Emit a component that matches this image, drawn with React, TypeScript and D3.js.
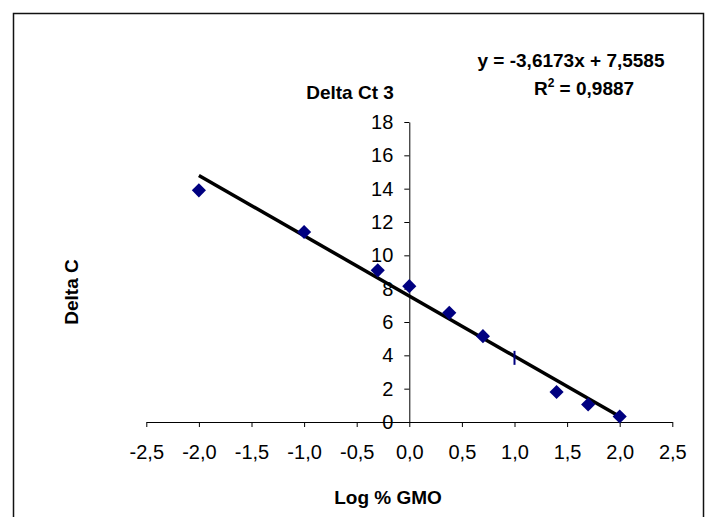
import React, { useEffect, useRef } from 'react'
import * as d3 from 'd3'

// measured points (log % GMO vs delta Ct)
const logGmo = [-2.0, -1.0, -0.3, 0.0, 0.38, 0.7, 1.4, 1.7, 2.0]
const deltaCt = [13.9, 11.4, 9.1, 8.15, 6.55, 5.15, 1.8, 1.05, 0.33]
// one point drawn as a short dash in the original
const dashX = [1.0]
const dashY = [3.85]

const xTicks = [-2.5, -2.0, -1.5, -1.0, -0.5, 0.0, 0.5, 1.0, 1.5, 2.0, 2.5]
const yTicks = [0, 2, 4, 6, 8, 10, 12, 14, 16, 18]

const slope = -3.6173
const intercept = 7.5585
const fitRange = [-2, 2]

const title = 'Delta Ct 3'
const xTitle = 'Log % GMO'
const yTitle = 'Delta C'
const eqLine = 'y = -3,6173x + 7,5585'
const r2Value = ' = 0,9887'

export default function App() {
	const ref = useRef<SVGSVGElement>(null)

	useEffect(() => {
		const svg = d3.select(ref.current)
		svg.selectAll('*').remove()

		const font = 'Liberation Sans, Arial, sans-serif'
		const x = d3.scaleLinear().domain([-2.5, 2.5]).range([146.3, 672.3])
		const y = d3.scaleLinear().domain([0, 18]).range([422, 122])
		// excel style: comma decimal, plain hyphen for minus
		const comma = (d: number) => d.toFixed(1).replace('.', ',')

		// chart area border
		svg.append('rect')
			.attr('x', 13.5).attr('y', 13.5)
			.attr('width', 690).attr('height', 600)
			.attr('fill', 'white')
			.attr('stroke', '#111').attr('stroke-width', 1.5)

		svg.append('g')
			.attr('transform', `translate(0,${y(0)})`)
			.call(d3.axisBottom(x).tickValues(xTicks).tickFormat(d => comma(+d))
				.tickSize(5).tickSizeOuter(0).tickPadding(18))
			.call(g => g.selectAll('text').attr('font-size', 20).attr('font-family', font).attr('fill', '#000'))
			.call(g => g.selectAll('line,path').attr('stroke', '#000'))

		svg.append('g')
			.attr('transform', `translate(${x(0)},0)`)
			.call(d3.axisLeft(y).tickValues(yTicks).tickFormat(d => String(d))
				.tickSize(5).tickSizeOuter(0).tickPadding(11))
			.call(g => g.selectAll('text').attr('font-size', 20).attr('font-family', font).attr('fill', '#000'))
			.call(g => g.selectAll('line,path').attr('stroke', '#000'))

		// trend line
		svg.append('line')
			.attr('x1', x(fitRange[0])).attr('y1', y(slope * fitRange[0] + intercept))
			.attr('x2', x(fitRange[1])).attr('y2', y(slope * fitRange[1] + intercept))
			.attr('stroke', '#000').attr('stroke-width', 3.5)

		const diamond = d3.symbol(d3.symbolSquare, 100)
		svg.append('g')
			.selectAll('path')
			.data(d3.range(logGmo.length))
			.join('path')
				.attr('d', diamond)
				.attr('transform', i => `translate(${x(logGmo[i])},${y(deltaCt[i])}) rotate(45)`)
				.attr('fill', '#000080')

		svg.append('g')
			.selectAll('line')
			.data(d3.range(dashX.length))
			.join('line')
				.attr('x1', i => x(dashX[i])).attr('x2', i => x(dashX[i]))
				.attr('y1', i => y(dashY[i]) - 7).attr('y2', i => y(dashY[i]) + 7)
				.attr('stroke', '#000080').attr('stroke-width', 2)

		const bold = (t: d3.Selection<SVGTextElement, unknown, null, undefined>) =>
			t.attr('font-family', font).attr('font-weight', 'bold').attr('font-size', 19).attr('fill', '#000')

		svg.append('text').attr('x', 350).attr('y', 99).attr('text-anchor', 'middle').text(title).call(bold)
		svg.append('text').attr('x', 388).attr('y', 504).attr('text-anchor', 'middle').text(xTitle).call(bold)
		svg.append('text')
			.attr('transform', 'translate(78,292) rotate(-90)')
			.attr('text-anchor', 'middle').text(yTitle).call(bold)

		svg.append('text').attr('x', 571).attr('y', 67).attr('text-anchor', 'middle').text(eqLine).call(bold)
		const r2 = svg.append('text').attr('x', 584).attr('y', 95).attr('text-anchor', 'middle').call(bold)
		r2.append('tspan').text('R')
		r2.append('tspan').attr('font-size', 12).attr('dy', -8).text('2')
		r2.append('tspan').attr('dy', 8).text(r2Value)
	}, [])

	return (
		<svg ref={ref} width={706} height={517}
			style={{ position: 'absolute', left: 0, top: 0, display: 'block' }} />
	)
}
